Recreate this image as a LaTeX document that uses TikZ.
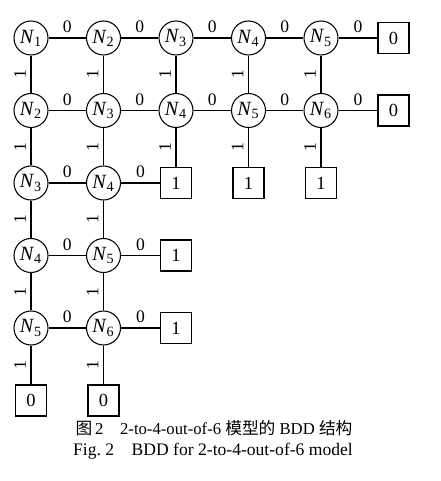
\documentclass[tikz,border=0pt]{standalone}
\usepackage{fontspec}
\setmainfont{Liberation Serif}
\newfontfamily\cjk{Noto Sans CJK SC}
\usetikzlibrary{positioning}
\tikzset{
	node distance=1.45cm, % spacing of the grid, centre to centre
	var/.style={circle, draw, line width=0.6pt, minimum size=0.68cm, inner sep=0pt, font=\fontsize{11.5}{13}\selectfont}, % a variable node
	leaf/.style={rectangle, draw, line width=0.6pt, minimum size=0.62cm, inner sep=0pt, font=\fontsize{10.5}{12}\selectfont}, % terminal 0 / 1
	zero/.style={above, inner sep=2.5pt, font=\fontsize{10}{11}\selectfont}, % label of the 0-branch
	one/.style={xshift=-0.22cm, rotate=90, inner sep=0pt, font=\fontsize{10}{11}\selectfont}, % label of the 1-branch
	every edge/.style={draw, line width=0.6pt},
}
\newcommand{\Nv}[1]{\textit{N}\textsubscript{#1}}

\begin{document}
\begin{tikzpicture}[on grid]
	\useasboundingbox (-0.62,0.76) rectangle (8.18,-8.86);
	% first row
	\node[var] (N1) {\Nv{1}};
	\node[var, right=of N1] (N2) {\Nv{2}};
	\node[var, right=of N2] (N3) {\Nv{3}};
	\node[var, right=of N3] (N4) {\Nv{4}};
	\node[var, right=of N4] (N5) {\Nv{5}};
	\node[leaf, right=of N5] (Zero1) {0};
	% second row
	\node[var, below=of N1] (N2b) {\Nv{2}};
	\node[var, below=of N2] (N3b) {\Nv{3}};
	\node[var, below=of N3] (N4b) {\Nv{4}};
	\node[var, below=of N4] (N5b) {\Nv{5}};
	\node[var, below=of N5] (N6b) {\Nv{6}};
	\node[leaf, below=of Zero1] (Zero2) {0};
	% third row
	\node[var, below=of N2b] (N3c) {\Nv{3}};
	\node[var, below=of N3b] (N4c) {\Nv{4}};
	\node[leaf, below=of N4b] (One1) {1};
	\node[leaf, below=of N5b] (One2) {1};
	\node[leaf, below=of N6b] (One3) {1};
	% fourth and fifth row
	\node[var, below=of N3c] (N4d) {\Nv{4}};
	\node[var, below=of N4c] (N5d) {\Nv{5}};
	\node[leaf, below=of One1] (One4) {1};
	\node[var, below=of N4d] (N5e) {\Nv{5}};
	\node[var, below=of N5d] (N6e) {\Nv{6}};
	\node[leaf, below=of One4] (One5) {1};
	% last row
	\node[leaf, below=of N5e] (Zero3) {0};
	\node[leaf, below=of N6e] (Zero4) {0};

	%% 0-branches
	\draw (N1) edge node[zero]{0} (N2);
	\draw (N2) edge node[zero]{0} (N3);
	\draw (N3) edge node[zero]{0} (N4);
	\draw (N4) edge node[zero]{0} (N5);
	\draw (N5) edge node[zero]{0} (Zero1);
	\draw (N2b) edge node[zero]{0} (N3b);
	\draw (N3b) edge node[zero]{0} (N4b);
	\draw (N4b) edge node[zero]{0} (N5b);
	\draw (N5b) edge node[zero]{0} (N6b);
	\draw (N6b) edge node[zero]{0} (Zero2);
	\draw (N3c) edge node[zero]{0} (N4c);
	\draw (N4c) edge node[zero]{0} (One1);
	\draw (N4d) edge node[zero]{0} (N5d);
	\draw (N5d) edge node[zero]{0} (One4);
	\draw (N5e) edge node[zero]{0} (N6e);
	\draw (N6e) edge node[zero]{0} (One5);

	%% 1-branches
	\draw (N1) edge node[one]{1} (N2b);
	\draw (N2) edge node[one]{1} (N3b);
	\draw (N3) edge node[one]{1} (N4b);
	\draw (N4) edge node[one]{1} (N5b);
	\draw (N5) edge node[one]{1} (N6b);
	\draw (N2b) edge node[one]{1} (N3c);
	\draw (N3b) edge node[one]{1} (N4c);
	\draw (N4b) edge node[one]{1} (One1);
	\draw (N5b) edge node[one]{1} (One2);
	\draw (N6b) edge node[one]{1} (One3);
	\draw (N3c) edge node[one]{1} (N4d);
	\draw (N4c) edge node[one]{1} (N5d);
	\draw (N4d) edge node[one]{1} (N5e);
	\draw (N5d) edge node[one]{1} (N6e);
	\draw (N5e) edge node[one]{1} (Zero3);
	\draw (N6e) edge node[one]{1} (Zero4);

	% caption
	\node[font=\fontsize{9.5}{11}\selectfont] (Cap1) at (3.66,-7.8) {{\cjk 图}\,2\quad 2-to-4-out-of-6 {\cjk 模型的} BDD {\cjk 结构}};
	\node[font=\fontsize{10}{12}\selectfont] (Cap2) at (3.64,-8.26) {Fig.~2\quad BDD for 2-to-4-out-of-6 model};
\end{tikzpicture}
\end{document}
